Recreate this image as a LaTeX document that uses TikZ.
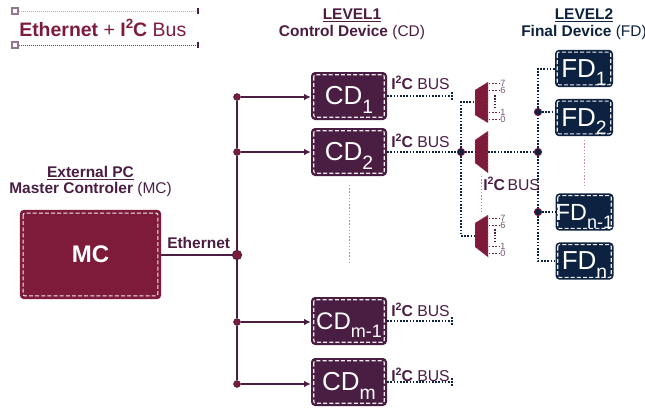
\documentclass[tikz,border=0pt]{standalone}
\usepackage{fontspec}
\setmainfont{Liberation Sans}
\usetikzlibrary{arrows.meta,calc}
\definecolor{crim}{HTML}{7E1B3B}
\definecolor{plum}{HTML}{4A1D42}
\definecolor{navy}{HTML}{0D2240}
\definecolor{pinkd}{HTML}{C98AA0}
\newcommand{\fs}[1]{\fontsize{#1}{#1}\selectfont}
\newcommand{\subd}[1]{\smash{\raisebox{-6.3pt}{\fs{14.5}#1}}}
\newcommand{\subn}[1]{\smash{\raisebox{-6.3pt}{\fs{13.5}#1}}}
\newcommand{\iic}{\textbf{I\raisebox{0.42em}{\fs{8}2}C}}
\tikzset{
  devbox/.style={rounded corners=3pt,text=white,inner sep=0pt,align=center,font=\fs{19.5}},
  cdbox/.style={devbox,fill=plum,minimum width=57pt,minimum height=36pt},
  fdbox/.style={devbox,fill=navy,minimum width=43.5pt,minimum height=28pt},
  mcbox/.style={devbox,fill=crim,minimum width=106pt,minimum height=67pt,font=\fs{18}\bfseries},
  inner/.style={draw=white!92!plum,dash pattern=on 3pt off 1.6pt,line width=0.8pt,rounded corners=1.5pt},
  pj/.style={circle,fill=crim,draw=plum,line width=0.6pt,inner sep=0pt,minimum size=5pt},
  pjb/.style={circle,fill=crim,draw=plum,line width=0.6pt,inner sep=0pt,minimum size=7pt},
  nj/.style={circle,fill=navy,draw=crim,line width=0.6pt,inner sep=0pt,minimum size=5.5pt},
  eth/.style={plum,line width=1pt},
  ethar/.style={eth,-{Latex[length=5pt,width=5pt]}},
  i2c/.style={navy,line width=1.5pt,dash pattern=on 1.2pt off 1.2pt},
  faint/.style={pinkd,line width=0.6pt,dash pattern=on 1pt off 1.4pt},
  lab/.style={inner sep=0pt,align=center,font=\fs{11.6}},
  bus/.style={inner sep=0pt,anchor=west,text=plum,font=\fs{11.8}},
  num/.style={inner sep=0pt,text=plum!75!white,font=\fs{6.8}},
  muxb/.style={fill=crim,draw=pinkd,line width=0.5pt,dotted},
}
\begin{document}
\begin{tikzpicture}[x=0.75pt,y=-0.75pt]
\useasboundingbox (0,0) rectangle (645,407);
% title
\node[draw=plum!60!white,fill=white,line width=0.8pt,minimum size=4.5pt,inner sep=0pt] (h1) at (15,11) {};
\node[draw=plum!60!white,fill=white,line width=0.8pt,minimum size=4.5pt,inner sep=0pt] (h2) at (15,45) {};
\coordinate (t1) at (198,11); \coordinate (t2) at (198,45);
\draw[gray!60,line width=0.5pt,densely dotted] (h1) -- (t1);
\draw[plum!80,line width=0.5pt,densely dotted] (h2) -- (t2);
\draw[plum,line width=0.9pt] ($(t1)+(0,-3)$) -- ($(t1)+(0,3)$);
\draw[plum,line width=0.9pt] ($(t2)+(0,-3)$) -- ($(t2)+(0,3)$);
\node[inner sep=0pt,anchor=west,text=crim,font=\fs{14.6}] (title) at (19,28) {\textbf{Ethernet} + \textbf{I\raisebox{0.42em}{\fs{10}2}C} Bus};
% headers
\node[lab,text=plum] (hl1) at (352,24) {\underline{\textbf{LEVEL1}}\\[1pt]\textbf{Control Device} (CD)};
\node[lab,text=navy] (hl2) at (584,24) {\underline{\textbf{LEVEL2}}\\[1pt]\textbf{Final Device} (FD)};
\node[lab,text=plum] (hmc) at (90.5,181.5) {\underline{\textbf{External PC}}\\[1pt]\textbf{Master Controler} (MC)};
% MC
\node[mcbox] (mc) at (90.5,254.5) {MC};
\draw[inner] ($(mc.north west)+(3.5,3.5)$) rectangle ($(mc.south east)+(-3.5,-3.5)$);
% CD
\node[cdbox] (cd1) at (349,96) {CD\subd{1}};
\node[cdbox] (cd2) at (349,152) {CD\subd{2}};
\node[cdbox] (cd3) at (349,321) {\fs{18}CD\subn{m-1}};
\node[cdbox] (cd4) at (349,382) {CD\subd{m}};
\foreach \n in {cd1,cd2,cd3,cd4}{
  \draw[inner] ($(\n.north west)+(3,3)$) rectangle ($(\n.south east)+(-3,-3)$);}
% FD
\node[fdbox] (fd1) at (584,68.5) {FD\subd{1}};
\node[fdbox] (fd2) at (584,117.5) {FD\subd{2}};
\node[fdbox] (fd3) at (584.5,212) {\fs{17.5}FD\subn{n-1}};
\node[fdbox] (fd4) at (584.5,261) {FD\subd{n}};
\foreach \n in {fd1,fd2,fd3,fd4}{
  \draw[inner] ($(\n.north west)+(2.5,2.5)$) rectangle ($(\n.south east)+(-2.5,-2.5)$);}
% Ethernet bus
\node[pj] (j1) at (237,97) {};
\node[pj] (j2) at (237,152) {};
\node[pjb] (j0) at (237,255) {};
\node[pj] (j3) at (237,322) {};
\node[pj] (j4) at (237,384) {};
\draw[eth] (j1) -- (j2);
\draw[eth] (j2) -- (j0);
\draw[eth] (j0) -- (j3);
\draw[eth] (j3) -- (j4);
\draw[eth] (mc.east |- j0) -- (j0);
\draw[ethar] (j1) -- (j1 -| cd1.west);
\draw[ethar] (j2) -- (j2 -| cd2.west);
\draw[ethar] (j3) -- (j3 -| cd3.west);
\draw[ethar] (j4) -- (j4 -| cd4.west);
\node[inner sep=0pt,anchor=west,text=plum,font=\fs{11.6}\bfseries] (ethl) at (167,243) {Ethernet};
% Muxes
\coordinate (m1) at (475,102); \coordinate (m2) at (475,152); \coordinate (m3) at (475,236);
\coordinate (m2o) at (488,152);
\draw[muxb] (475,90) -- (488,82) -- (488,123) -- (475,115) -- cycle;
\draw[muxb] (475,140) -- (488,131) -- (488,173) -- (475,163) -- cycle;
\draw[muxb] (475,223) -- (488,215) -- (488,257) -- (475,247) -- cycle;
% I2C lines
\node[nj] (k1) at (461,152) {};
\node[nj] (k2) at (538,152) {};
\node[nj] (k3) at (538,112) {};
\node[nj] (k4) at (538,212) {};
\coordinate (e1) at (452,96); \coordinate (e3) at (452,321); \coordinate (e4) at (452,382);
\draw[i2c] (cd1.east |- e1) -- (e1);
\draw[i2c] (cd3.east |- e3) -- (e3);
\draw[i2c] (cd4.east |- e4) -- (e4);
\draw[i2c] ($(e1)+(0,-4)$) -- ($(e1)+(0,4)$);
\draw[i2c] ($(e3)+(0,-4)$) -- ($(e3)+(0,4)$);
\draw[i2c] ($(e4)+(0,-4)$) -- ($(e4)+(0,4)$);
\draw[i2c] (cd2.east) -- (k1);
\draw[i2c] (k1) -- (m2);
\draw[i2c] (k1) |- (m1);
\draw[i2c] (k1) |- (m3);
\draw[i2c] (m2o) -- (k2);
\draw[i2c] (k2) -- (k3);
\draw[i2c] (k3) |- (fd1.west);
\draw[i2c] (k3) -- (fd2.west |- k3);
\draw[i2c] (k2) -- (k4);
\draw[i2c] (k4) -- (fd3.west |- k4);
\draw[i2c] (k4) |- (fd4.west);
% bus labels
\node[bus] at (391,83) {\iic\ BUS};
\node[bus] at (391,141) {\iic\ BUS};
\node[bus] at (391,310) {\iic\ BUS};
\node[bus] at (391,375) {\iic\ BUS};
\node[bus] at (483,184) {\iic\,BUS};
% faint lines
\coordinate (a1) at (349,185); \coordinate (a2) at (349,265);
\coordinate (b1) at (584,140); \coordinate (b2) at (584,188);
\coordinate (c1) at (481.5,176); \coordinate (c2) at (481.5,212);
\draw[faint] (a1) -- (a2);
\draw[faint] (b1) -- (b2);
\draw[faint] (c1) -- (c2);
% mux outputs
\foreach \t/\ya/\yb/\yc/\yd in {a/83/90/112/119, b/218/225/246/253}{
  \draw[faint,crim] (489,\ya) -- (499,\ya);
  \draw[faint,crim] (489,\yb) -- (499,\yb);
  \draw[faint,crim] (489,\yc) -- (499,\yc);
  \draw[faint,crim] (489,\yd) -- (499,\yd);
  \node[num] at (503,\ya) {7};
  \node[num] at (503,\yb) {6};
  \node[num] at (503,\yc) {1};
  \node[num] at (503,\yd) {0};
}
\coordinate (d1) at (495,95); \coordinate (d2) at (495,107);
\coordinate (d3) at (495,229); \coordinate (d4) at (495,242);
\draw[plum,line width=1.4pt,dash pattern=on 1.2pt off 1pt] (d1) -- (d2);
\draw[plum,line width=1.4pt,dash pattern=on 1.2pt off 1pt] (d3) -- (d4);
\end{tikzpicture}
\end{document}
